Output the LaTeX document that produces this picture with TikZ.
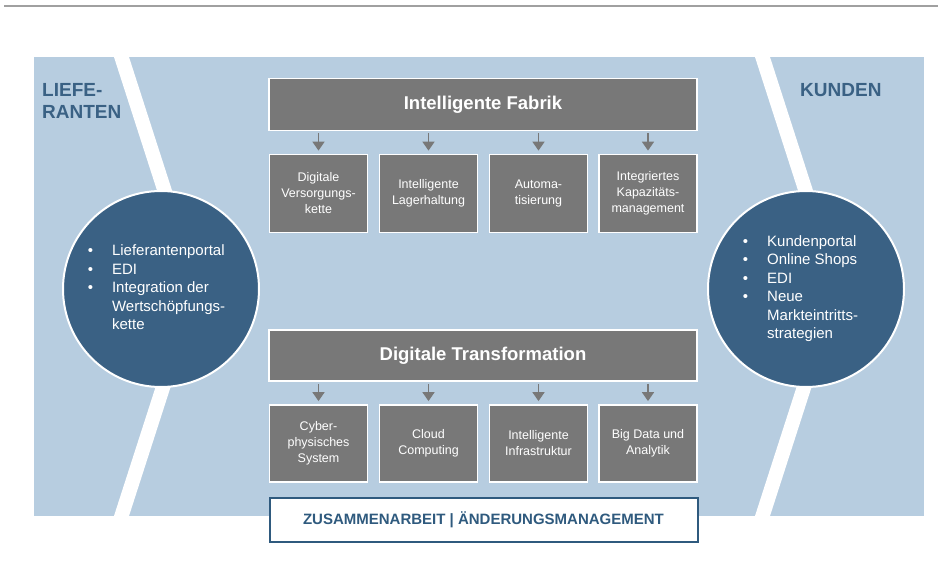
\documentclass[tikz,border=0pt]{standalone}
\usepackage{fontspec}
\setmainfont{Liberation Sans}
\usetikzlibrary{arrows.meta}
\definecolor{bgblue}{HTML}{B7CDE0}
\definecolor{circblue}{HTML}{3A6184}
\definecolor{boxgray}{HTML}{787878}
\definecolor{darkblue}{HTML}{2F5A7E}
\definecolor{linegray}{HTML}{A0A0A0}
\begin{document}
\begin{tikzpicture}[x=1pt,y=-1pt,
  bigbox/.style={draw=white, line width=1.8pt, fill=boxgray, text=white, font=\bfseries\fontsize{18.5}{22}\selectfont, minimum width=428pt, minimum height=52pt, inner sep=0pt},
  smallbox/.style={draw=white, line width=1.8pt, fill=boxgray, text=white, font=\fontsize{12.5}{16}\selectfont, align=center, minimum width=98pt, minimum height=78pt, inner sep=0pt},
  arr/.style={draw=boxgray, line width=1.8pt, -{Triangle[width=12pt,length=9pt]}, shorten <=2pt, shorten >=3pt},
  hub/.style={circle, fill=circblue, draw=white, line width=2pt, minimum size=196pt, inner sep=0pt, text=white, font=\fontsize{15}{18.5}\selectfont},
  sidelabel/.style={text=circblue, font=\bfseries\fontsize{19}{22}\selectfont, align=left, inner sep=0pt, anchor=north west},
  stripe/.style={draw=white, line width=14.3pt},
  collab/.style={draw=darkblue, line width=2pt, fill=white, text=darkblue, font=\bfseries\fontsize{15}{18}\selectfont, minimum width=428pt, minimum height=44pt, inner sep=0pt}
]
\useasboundingbox (0,0) rectangle (938,586);
\fill[white] (0,0) rectangle (938,586);
\draw[linegray, line width=2.2pt] (4,6) -- (938,6);
\fill[bgblue] (34,57) rectangle (924,516);
\begin{scope}
  \clip (34,57) rectangle (924,516);
  \draw[stripe] (116,40) -- (195.5,286.5) -- (116,533);
  \draw[stripe] (757,40) -- (836.5,286.5) -- (757,533);
\end{scope}

\node[sidelabel] (lief) at (42,83) {LIEFE-\\RANTEN};
\node[sidelabel] (kund) at (800,83) {KUNDEN};

\node[hub] (sup) at (161,289) {\hspace*{-9pt}\begin{tabular}{@{}l@{\hspace{19pt}}l@{}}•&Lieferantenportal\\ •&EDI\\ •&Integration der\\ &Wertschöpfungs-\\ &kette\end{tabular}};
\node[hub] (cus) at (806,289) {\hspace*{-11pt}\begin{tabular}{@{}l@{\hspace{19pt}}l@{}}•&Kundenportal\\ •&Online Shops\\ •&EDI\\ •&Neue\\ &Markteintritts-\\ &strategien\end{tabular}};

\node[bigbox] (fab) at (483,104.5) {Intelligente Fabrik};
\node[smallbox] (a1) at (318.5,193.5) {Digitale\\Versorgungs-\\kette};
\node[smallbox] (a2) at (428.5,193.5) {Intelligente\\Lagerhaltung};
\node[smallbox] (a3) at (538.5,193.5) {Automa-\\tisierung};
\node[smallbox] (a4) at (648,193.5) {Integriertes\\Kapazitäts-\\management};

\node[bigbox, minimum height=51pt] (dt) at (483,355.5) {Digitale Transformation};
\node[smallbox, minimum height=77pt] (b1) at (318.5,443.5) {Cyber-\\physisches\\System};
\node[smallbox, minimum height=77pt] (b2) at (428.5,443.5) {Cloud\\Computing};
\node[smallbox, minimum height=77pt] (b3) at (538.5,443.5) {Intelligente\\Infrastruktur};
\node[smallbox, minimum height=77pt] (b4) at (648,443.5) {Big Data und\\Analytik};

\node[collab] (col) at (483.5,519.5) {ZUSAMMENARBEIT | ÄNDERUNGSMANAGEMENT};

\foreach \n in {a1,a2,a3,a4} \draw[arr] (fab.south -| \n.north) -- (\n.north);
\foreach \n in {b1,b2,b3,b4} \draw[arr] (dt.south -| \n.north) -- (\n.north);
\end{tikzpicture}
\end{document}
